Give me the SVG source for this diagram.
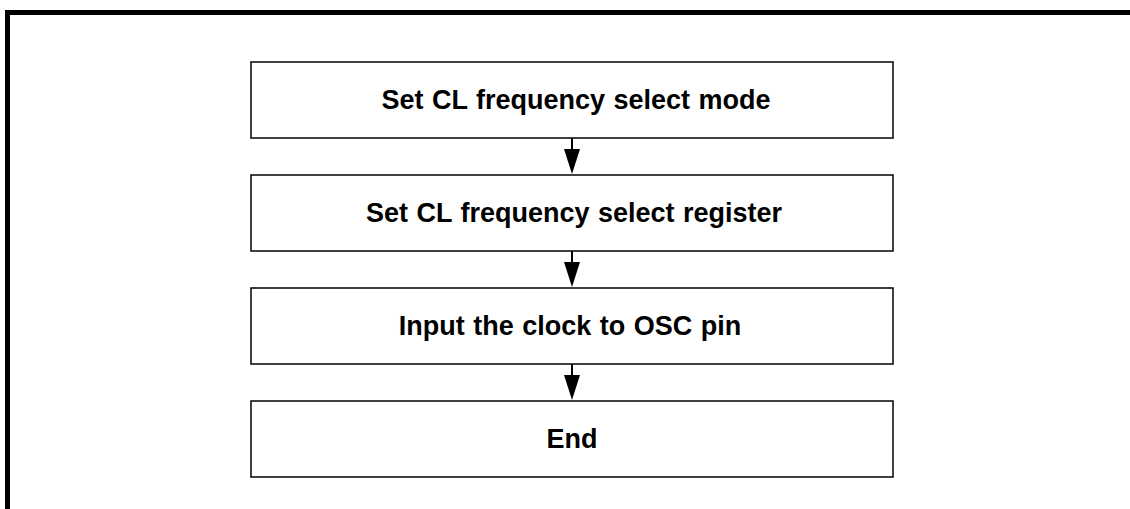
<svg xmlns="http://www.w3.org/2000/svg" width="1130" height="509" viewBox="0 0 1130 509">
<style>
.box{fill:#fff;stroke:#000;stroke-width:1.5}
.lbl{font-family:"Liberation Sans",Arial,sans-serif;font-weight:bold;font-size:27px;word-spacing:1px;fill:#000;text-anchor:middle}
.conn{stroke:#000;stroke-width:2;fill:none}
</style>
<rect width="1130" height="509" fill="#fff"/>
<path d="M7.5,509 V12.5 H1130" fill="none" stroke="#000" stroke-width="5"/>
<g id="n1"><rect class="box" x="251" y="62" width="642" height="76"/><text class="lbl" x="576" y="109">Set CL frequency select mode</text></g>
<g id="n2"><rect class="box" x="251" y="175" width="642" height="76"/><text class="lbl" x="574" y="222">Set CL frequency select register</text></g>
<g id="n3"><rect class="box" x="251" y="288" width="642" height="76"/><text class="lbl" x="570" y="335">Input the clock to OSC pin</text></g>
<g id="n4"><rect class="box" x="251" y="401" width="642" height="76"/><text class="lbl" x="572" y="448">End</text></g>
<g id="connectors">
<line class="conn" x1="572" y1="138" x2="572" y2="150"/><path d="M564,149 L580,149 L572,174 Z"/>
<line class="conn" x1="572" y1="251" x2="572" y2="263"/><path d="M564,262 L580,262 L572,287 Z"/>
<line class="conn" x1="572" y1="364" x2="572" y2="376"/><path d="M564,375 L580,375 L572,400 Z"/>
</g>
</svg>
